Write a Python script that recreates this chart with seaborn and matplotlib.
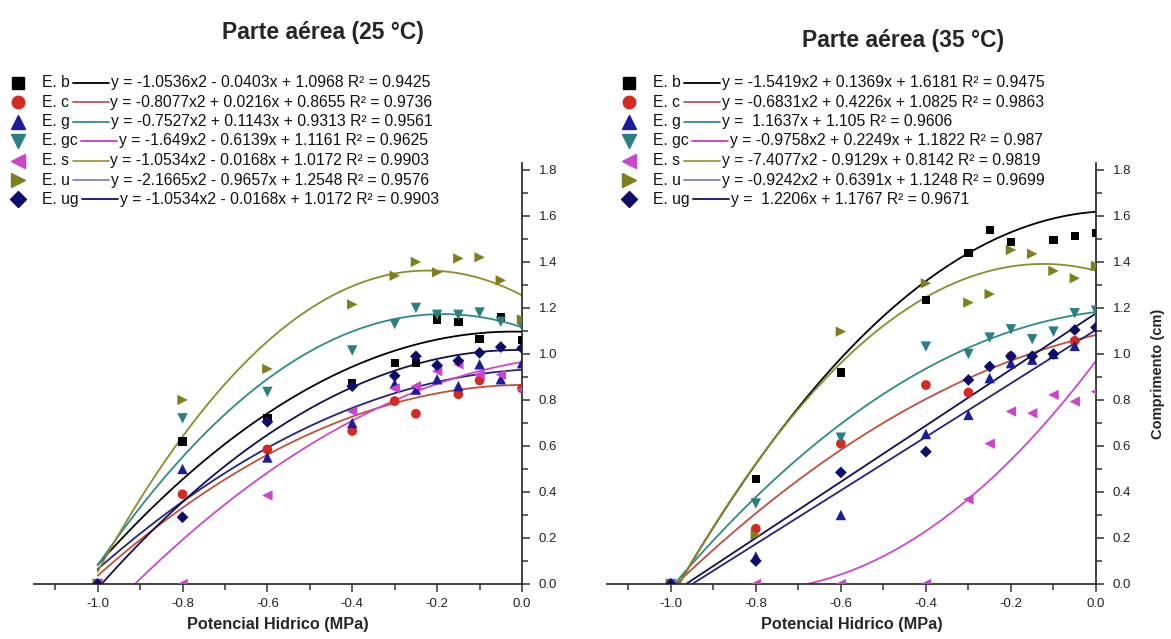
import numpy as np
import pandas as pd
import matplotlib
matplotlib.use("Agg")
import matplotlib.pyplot as plt
from matplotlib.lines import Line2D
from matplotlib.ticker import MultipleLocator, FormatStrFormatter
import seaborn as sns

sns.set_theme(style="white")
plt.rcParams['font.family'] = ['Liberation Sans', 'DejaVu Sans']
plt.rcParams['axes.unicode_minus'] = False

# ---------------- data ----------------
species = ["E. b", "E. c", "E. g", "E. gc", "E. s", "E. u", "E. ug"]
x_vals = [-1.0, -0.8, -0.6, -0.4, -0.3, -0.25, -0.2, -0.15, -0.1, -0.05, 0.0]
nan = np.nan

# Parte aérea 25 °C
y25_b = [0, 0.62, 0.72, 0.875, 0.96, 0.96, 1.15, 1.14, 1.065, 1.16, 1.06]
y25_c = [0, 0.39, 0.585, 0.665, 0.795, 0.74, nan, 0.825, 0.885, nan, 0.85]
y25_g = [0, 0.50, 0.55, 0.70, 0.87, 0.845, 0.89, 0.86, 0.955, 0.89, 0.96]
y25_gc = [0, 0.72, 0.835, 1.015, 1.13, 1.20, 1.17, 1.17, 1.18, 1.14, 1.12]
y25_s = [0, 0.0, 0.385, 0.75, 0.85, 0.86, 0.925, 0.955, 0.91, 0.91, 0.845]
y25_u = [0, 0.80, 0.935, 1.215, 1.34, 1.40, 1.355, 1.415, 1.42, 1.32, 1.15]
y25_ug = [0, 0.29, 0.705, 0.86, 0.905, 0.99, 0.95, 0.97, 1.005, 1.03, 1.025]

# Parte aérea 35 °C
y35_b = [0, 0.455, 0.92, 1.235, 1.44, 1.54, 1.487, nan, 1.496, 1.513, 1.525]
y35_c = [0, 0.24, 0.61, 0.865, 0.832, nan, 0.99, nan, nan, 1.057, nan]
y35_g = [0, 0.12, 0.30, 0.652, 0.735, 0.895, 0.96, 0.975, 1.0, 1.035, nan]
y35_gc = [0, 0.35, 0.636, 1.032, 1.0, 1.071, 1.107, 1.064, 1.097, 1.177, 1.188]
y35_s = [0, 0, 0, 0, 0.368, 0.61, 0.75, 0.742, 0.822, 0.793, 0.836]
y35_u = [0, 0.213, 1.097, 1.307, 1.223, 1.26, 1.452, 1.435, 1.361, 1.329, 1.383]
y35_ug = [0, 0.10, 0.485, 0.575, 0.887, 0.945, 0.99, 0.99, 1.0, 1.104, 1.115]

# trend-line coefficients (a, b, c): y = a x^2 + b x + c
coef25 = [[-1.0536, -0.0403, 1.0968], [-0.8077, 0.0216, 0.8655],
          [-0.7527, 0.1143, 0.9313], [-1.649, -0.6139, 1.1161],
          [-0.82, 0.31, 0.965], [-2.1665, -0.9657, 1.2548],
          [-1.0534, -0.0168, 1.0172]]
coef35 = [[-1.5419, 0.1369, 1.6181], [-0.6831, 0.4226, 1.0825],
          [0.0, 1.1637, 1.105], [-0.9758, 0.2249, 1.1822],
          [1.509, 2.453, 0.97], [-1.9, -0.471, 1.362],
          [0.0, 1.2206, 1.1767]]
start25 = [-1.0, -1.0, -1.0, -1.0, -1.0, -1.0, -1.0]
start35 = [-1.0, -1.0, -1.0, -1.0, -0.68, -1.0, -1.0]

eq25 = ["y = -1.0536x2 - 0.0403x + 1.0968 R\u00b2 = 0.9425",
        "y = -0.8077x2 + 0.0216x + 0.8655 R\u00b2 = 0.9736",
        "y = -0.7527x2 + 0.1143x + 0.9313 R\u00b2 = 0.9561",
        "y = -1.649x2 - 0.6139x + 1.1161 R\u00b2 = 0.9625",
        "y = -1.0534x2 - 0.0168x + 1.0172 R\u00b2 = 0.9903",
        "y = -2.1665x2 - 0.9657x + 1.2548 R\u00b2 = 0.9576",
        "y = -1.0534x2 - 0.0168x + 1.0172 R\u00b2 = 0.9903"]
eq35 = ["y = -1.5419x2 + 0.1369x + 1.6181 R\u00b2 = 0.9475",
        "y = -0.6831x2 + 0.4226x + 1.0825 R\u00b2 = 0.9863",
        "y =  1.1637x + 1.105 R\u00b2 = 0.9606",
        "y = -0.9758x2 + 0.2249x + 1.1822 R\u00b2 = 0.987",
        "y = -7.4077x2 - 0.9129x + 0.8142 R\u00b2 = 0.9819",
        "y = -0.9242x2 + 0.6391x + 1.1248 R\u00b2 = 0.9699",
        "y =  1.2206x + 1.1767 R\u00b2 = 0.9671"]

x_ticks = [-1.0, -0.8, -0.6, -0.4, -0.2, 0.0]
y_ticks = [0.0, 0.2, 0.4, 0.6, 0.8, 1.0, 1.2, 1.4, 1.6, 1.8]

# ---------------- styles ----------------
markers = ['s', 'o', '^', 'v', '<', '>', 'D']
msizes = [6, 7, 7.5, 7.5, 7.5, 7.5, 6]
mcolors = ['#000000', '#d32a22', '#1c1c9e', '#2c7f80', '#cc44cc', '#7f7f1e', '#0e0e6a']
ccolors = ['#000000', '#c0503a', '#23237e', '#2e8a8a', '#cc48cc', '#8c8c2c', '#101050']
lcolors = ['#000000', '#c85050', '#3a8a8a', '#c040c0', '#9a9a40', '#8080c0', '#101060']

W, H = 1171, 639
fig = plt.figure(figsize=(W / 100, H / 100), dpi=100)

ylo, yhi = 0.0, 1.83
bottom = (H - 584) / H
height = (584 - 163) / H
ax1 = fig.add_axes([34 / W, bottom, (522 - 34) / W, height])
ax2 = fig.add_axes([607 / W, bottom, (1096 - 607) / W, height])


def draw_panel(ax, ys, coefs, starts):
    for i, name in enumerate(species):
        xs = np.linspace(starts[i], 0.0, 200)
        yv = np.polyval(coefs[i], xs)
        sns.lineplot(x=xs, y=yv, ax=ax, color=ccolors[i], lw=1.3,
                     estimator=None, sort=False, zorder=2)
    for i, name in enumerate(species):
        df = pd.DataFrame({"x": x_vals, "y": ys[i]}).dropna()
        sns.scatterplot(data=df, x="x", y="y", ax=ax, marker=markers[i],
                        s=msizes[i] ** 2, color=mcolors[i], edgecolor='none',
                        linewidth=0, zorder=3)
    ax.set_xlim(-1.15, 0.0)
    ax.set_ylim(ylo, yhi)
    for s in ['left', 'top']:
        ax.spines[s].set_visible(False)
    for s in ['right', 'bottom']:
        ax.spines[s].set_color('#333333')
        ax.spines[s].set_linewidth(1.3)
    ax.yaxis.tick_right()
    ax.set_xticks(x_ticks)
    ax.set_yticks(y_ticks)
    ax.xaxis.set_minor_locator(MultipleLocator(0.1))
    ax.yaxis.set_minor_locator(MultipleLocator(0.1))
    ax.xaxis.set_major_formatter(FormatStrFormatter('%.1f'))
    ax.yaxis.set_major_formatter(FormatStrFormatter('%.1f'))
    ax.tick_params(axis='both', which='both', direction='out', colors='#333333',
                   labelcolor='#222222', labelsize=9.5, width=1.1)
    ax.tick_params(axis='both', which='major', length=6)
    ax.tick_params(axis='both', which='minor', length=4)
    ax.tick_params(axis='y', which='both', left=False, right=True, pad=6)
    ax.tick_params(axis='x', which='both', bottom=True, top=False, pad=4)
    ax.set_xlabel("Potencial Hidrico (MPa)", fontsize=11.7, fontweight='bold',
                  labelpad=5)
    ax.set_ylabel("")
    ax.grid(False)
    ax.set_facecolor('white')


draw_panel(ax1, [y25_b, y25_c, y25_g, y25_gc, y25_s, y25_u, y25_ug], coef25, start25)
draw_panel(ax2, [y35_b, y35_c, y35_g, y35_gc, y35_s, y35_u, y35_ug], coef35, start35)

ax2.yaxis.set_label_position('right')
ax2.set_ylabel("Comprimento (cm)", fontsize=10.5, fontweight='bold', labelpad=14)

# titles
fig.text(323 / W, 1 - 33 / H, "Parte aérea (25 °C)", ha='center', va='center',
         fontsize=16.5, fontweight='bold')
fig.text(903 / W, 1 - 40 / H, "Parte aérea (35 °C)", ha='center', va='center',
         fontsize=16.5, fontweight='bold')

# legends
renderer = fig.canvas.get_renderer()
rows = [82.7, 102.2, 121.6, 141.0, 160.5, 180.0, 199.4]


def draw_legend(xm, xt, eqs):
    for i, name in enumerate(species):
        yf = 1 - rows[i] / H
        fig.add_artist(Line2D([xm / W], [yf], marker=markers[i], markersize=msizes[i] + 2,
                              color=mcolors[i], linestyle='none',
                              transform=fig.transFigure))
        t = fig.text(xt / W, yf, name, va='center', ha='left', fontsize=11.3,
                     color='#111111')
        bb = t.get_window_extent(renderer)
        x0 = bb.x1 + 4
        fig.add_artist(Line2D([x0 / W, (x0 + 36) / W], [yf, yf], color=lcolors[i],
                              lw=1.3, transform=fig.transFigure))
        fig.text((x0 + 38) / W, yf, eqs[i], va='center', ha='left', fontsize=11.3,
                 color='#111111')


draw_legend(18, 41.5, eq25)
draw_legend(629, 652.5, eq35)

fig.savefig("out.png", dpi=100, facecolor='white')
